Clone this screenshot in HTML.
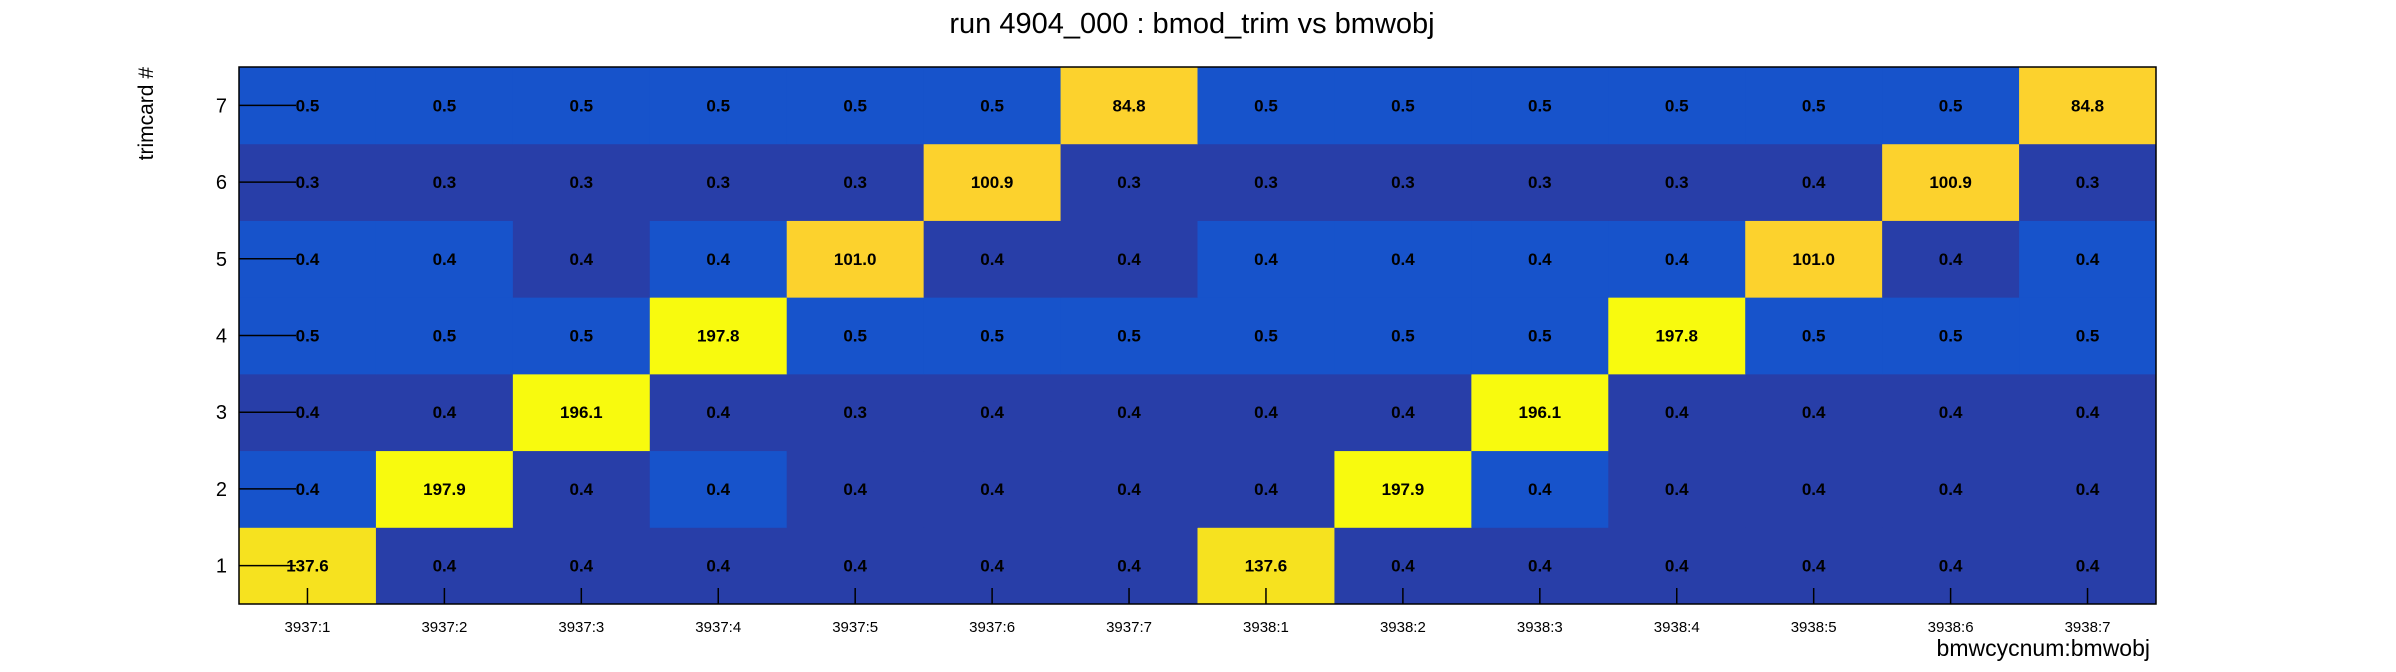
<!DOCTYPE html>
<html><head><meta charset="utf-8"><style>
html,body{margin:0;padding:0;background:#fff;}
svg{display:block;font-family:"Liberation Sans",sans-serif;}
</style></head><body>
<svg id="chart" width="2396" height="672" viewBox="0 0 2396 672">
<text x="1192" y="33" font-size="29" text-anchor="middle">run 4904_000 : bmod_trim vs bmwobj</text>
<text transform="translate(153,67) rotate(-90)" font-size="21" text-anchor="end">trimcard #</text>
<text x="2150" y="656" font-size="23" text-anchor="end">bmwcycnum:bmwobj</text>
<g id="cells"></g>
<g id="labels"></g>
<g id="axes"></g>
</svg>
<script>
const xCategories = ["3937:1","3937:2","3937:3","3937:4","3937:5","3937:6","3937:7","3938:1","3938:2","3938:3","3938:4","3938:5","3938:6","3938:7"];
const yCategories = ["1","2","3","4","5","6","7"];
const row1 = [137.6,0.37,0.37,0.37,0.37,0.37,0.37,137.6,0.37,0.37,0.37,0.37,0.37,0.37];
const row2 = [0.44,197.9,0.37,0.44,0.37,0.37,0.37,0.37,197.9,0.44,0.37,0.37,0.37,0.37];
const row3 = [0.37,0.37,196.1,0.37,0.3,0.37,0.37,0.37,0.37,196.1,0.37,0.37,0.37,0.37];
const row4 = [0.5,0.5,0.5,197.8,0.5,0.5,0.5,0.5,0.5,0.5,197.8,0.5,0.5,0.5];
const row5 = [0.44,0.44,0.37,0.44,101.0,0.37,0.37,0.44,0.44,0.44,0.44,101.0,0.37,0.44];
const row6 = [0.3,0.3,0.3,0.3,0.3,100.9,0.3,0.3,0.3,0.3,0.3,0.37,100.9,0.3];
const row7 = [0.5,0.5,0.5,0.5,0.5,0.5,84.8,0.5,0.5,0.5,0.5,0.5,0.5,84.8];
const rows = [row1,row2,row3,row4,row5,row6,row7];

const L=239,R=2156,T=67,B=604;
const cw=(R-L)/xCategories.length, ch=(B-T)/yCategories.length;
const xPos=i=>L+i*cw;
const yPos=j=>B-(j+1)*ch;
const zMin=0.3,zMax=197.9;
function color(v){
  const f=Math.log(v/zMin)/Math.log(zMax/zMin);
  if(f<0.044) return "#283ea8";
  if(f<0.3) return "#1753cb";
  if(f<0.6) return "#2aa8a0";
  if(f<0.93) return "#fcd22d";
  if(f<0.98) return "#f6e21f";
  return "#f8fa0e";
}
const NS="http://www.w3.org/2000/svg";
const cells=document.getElementById('cells'), labels=document.getElementById('labels'), axes=document.getElementById('axes');
rows.forEach((r,j)=>{r.forEach((v,i)=>{
  const rc=document.createElementNS(NS,'rect');
  rc.setAttribute('x',xPos(i));rc.setAttribute('y',yPos(j));
  rc.setAttribute('width',cw+0.5);rc.setAttribute('height',ch+0.5);
  rc.setAttribute('fill',color(v));
  
  
  cells.appendChild(rc);
  const t=document.createElementNS(NS,'text');
  t.setAttribute('x',xPos(i)+cw/2);t.setAttribute('y',yPos(j)+ch/2+6);
  t.setAttribute('text-anchor','middle');t.setAttribute('font-size','17');t.setAttribute('font-weight','bold');
  t.textContent=v.toFixed(1);
  
  
  labels.appendChild(t);
});});
function line(x1,y1,x2,y2,n){const l=document.createElementNS(NS,'line');
  l.setAttribute('x1',x1);l.setAttribute('y1',y1);l.setAttribute('x2',x2);l.setAttribute('y2',y2);
  l.setAttribute('stroke','#000');l.setAttribute('stroke-width','1.5');
  
  
  axes.appendChild(l);}
const fr=document.createElementNS(NS,'rect');
fr.setAttribute('x',L);fr.setAttribute('y',T);fr.setAttribute('width',R-L);fr.setAttribute('height',B-T);
fr.setAttribute('fill','none');fr.setAttribute('stroke','#000');fr.setAttribute('stroke-width','1.5');


axes.appendChild(fr);
xCategories.forEach((c,i)=>{const x=xPos(i)+cw/2;line(x,B-16,x,B,'x-tick');
  const t=document.createElementNS(NS,'text');t.setAttribute('x',x);t.setAttribute('y',B+28);
  t.setAttribute('text-anchor','middle');t.setAttribute('font-size','15');t.textContent=c;
  
  
  axes.appendChild(t);});
yCategories.forEach((c,j)=>{const y=yPos(j)+ch/2;line(L,y,L+57,y,'y-tick');
  const t=document.createElementNS(NS,'text');t.setAttribute('x',L-12);t.setAttribute('y',y+7);
  t.setAttribute('text-anchor','end');t.setAttribute('font-size','20');t.textContent=c;
  
  
  axes.appendChild(t);});
</script>
</body></html>
